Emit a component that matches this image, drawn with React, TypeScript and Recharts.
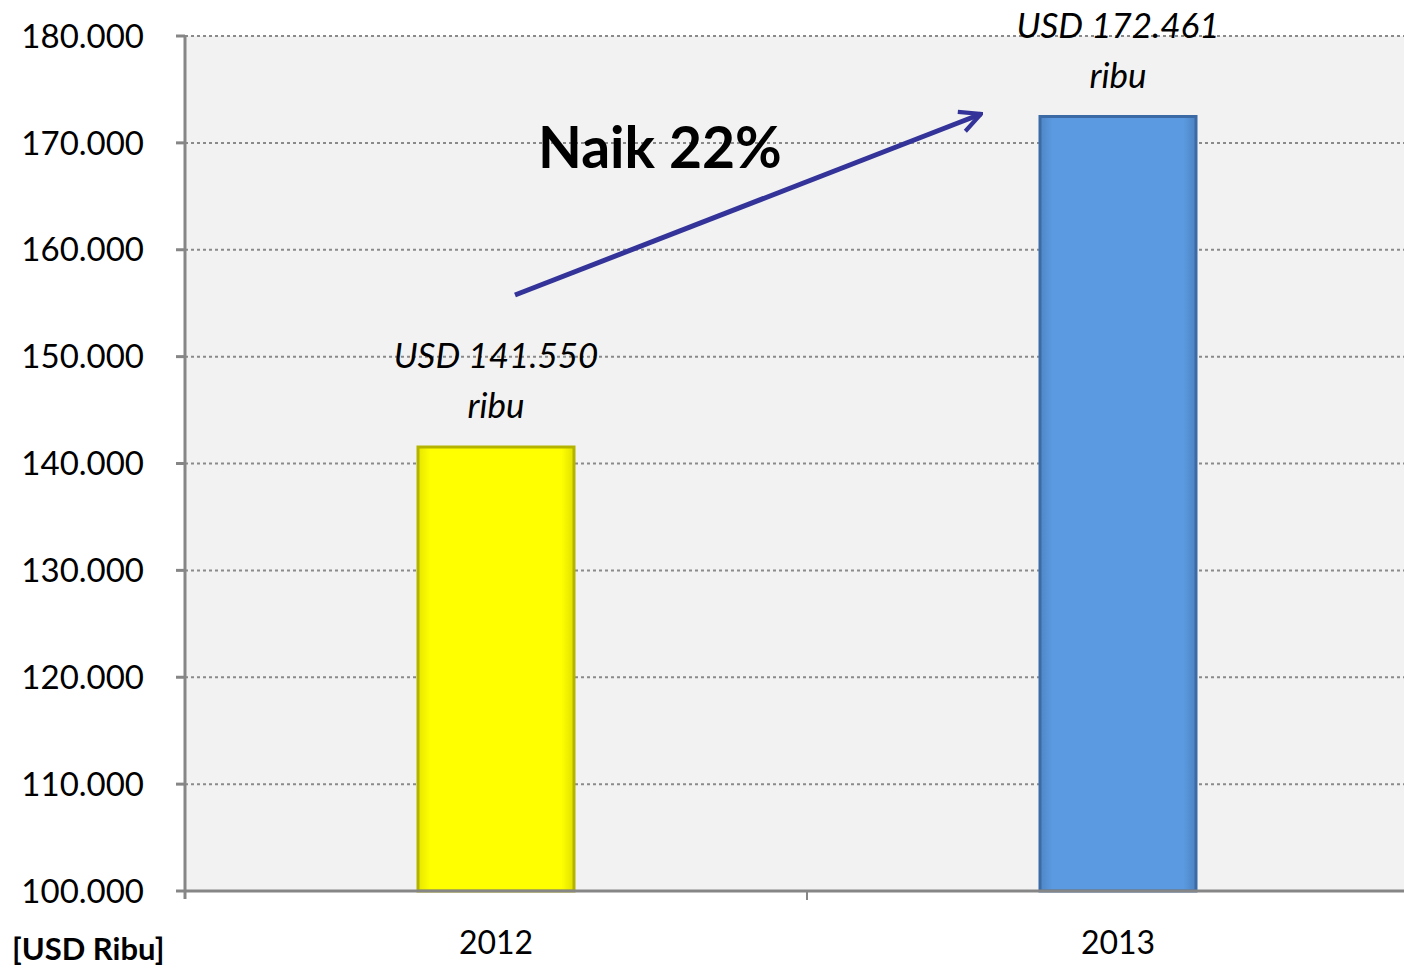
import { BarChart, Bar, XAxis, YAxis, CartesianGrid, Cell, LabelList } from 'recharts';

const years = ['2012', '2013'];
const values = [141550, 172461];
const barGradients = ['barYellow', 'barBlue'];
const barEdges = ['#b3b300', '#3b6aa5'];
const yTicks = [100000, 110000, 120000, 130000, 140000, 150000, 160000, 170000, 180000];

const data = years.map((year, i) => ({ year, value: values[i] }));

const font = 'Lato, "Open Sans", sans-serif';
const dots = (n: number) => String(n).replace(/\B(?=(\d{3})+(?!\d))/g, '.');
const TICK_GAP = 40;

const ValueLabel = (props: any) => {
  const { x, y, width, value } = props;
  const cx = x + width / 2;
  return (
    <g fontFamily={font} fontStyle="italic" fontSize={35} fill="#000" textAnchor="middle">
      <text x={cx} y={y - 79}>{`USD ${dots(value)}`}</text>
      <text x={cx} y={y - 29}>ribu</text>
    </g>
  );
};

// year label plus the small tick marks sitting on the category boundaries
const YearTick = (props: any) => {
  const { x, y, payload, index, visibleTicksCount } = props;
  const half = payload && payload.offset ? payload.offset : 310;
  const axisY = y - TICK_GAP;
  return (
    <g>
      {index === 0 && (
        <line x1={x - half} x2={x - half} y1={axisY} y2={axisY + 8} stroke="#868686" strokeWidth={3} />
      )}
      {index < (visibleTicksCount ?? 2) - 1 && (
        <line x1={x + half} x2={x + half} y1={axisY} y2={axisY + 9} stroke="#868686" strokeWidth={2} />
      )}
      <text x={x} y={y} dy="0.71em" textAnchor="middle" fontFamily={font} fontSize={32} fill="#000">
        {payload.value}
      </text>
    </g>
  );
};

export default function App() {
  return (
    <div
      style={{
        position: 'absolute',
        left: 0,
        top: 0,
        width: 1404,
        height: 968,
        overflow: 'hidden',
        background: '#fff',
      }}
    >
      <BarChart
        width={1429}
        height={968}
        data={data}
        margin={{ top: 36, right: 0, bottom: 0, left: 0 }}
      >
        <defs>
          <linearGradient id="barYellow" x1="0" y1="0" x2="1" y2="0">
            <stop offset="0" stopColor="#e6e600" />
            <stop offset="0.08" stopColor="#ffff00" />
            <stop offset="0.92" stopColor="#ffff00" />
            <stop offset="1" stopColor="#e0e000" />
          </linearGradient>
          <linearGradient id="barBlue" x1="0" y1="0" x2="1" y2="0">
            <stop offset="0" stopColor="#4f86c8" />
            <stop offset="0.08" stopColor="#5b9ae0" />
            <stop offset="0.92" stopColor="#5b9ae0" />
            <stop offset="1" stopColor="#4c82c2" />
          </linearGradient>
        </defs>
        <CartesianGrid
          vertical={false}
          fill="#f2f2f2"
          stroke="#8a8a8a"
          strokeWidth={2}
          strokeDasharray="3 3"
        />
        <XAxis
          dataKey="year"
          axisLine={{ stroke: '#868686', strokeWidth: 3 }}
          tickLine={false}
          tickSize={0}
          tickMargin={TICK_GAP}
          height={77}
          tick={<YearTick />}
        />
        <YAxis
          width={185}
          domain={[100000, 180000]}
          ticks={yTicks}
          tickFormatter={dots}
          axisLine={{ stroke: '#868686', strokeWidth: 3 }}
          tickLine={{ stroke: '#868686', strokeWidth: 3 }}
          tickSize={9}
          tickMargin={32}
          tick={{ fontFamily: font, fontSize: 33, fill: '#000' }}
        />
        <Bar dataKey="value" barSize={156} isAnimationActive={false}>
          {data.map((d, i) => (
            <Cell key={d.year} fill={`url(#${barGradients[i]})`} stroke={barEdges[i]} strokeWidth={3} />
          ))}
          <LabelList dataKey="value" content={ValueLabel} />
        </Bar>
      </BarChart>
      <svg
        width={1404}
        height={968}
        style={{ position: 'absolute', left: 0, top: 0, pointerEvents: 'none' }}
      >
        <defs>
          <marker
            id="head"
            viewBox="0 0 12 12"
            refX={11}
            refY={6}
            markerWidth={5}
            markerHeight={5}
            orient="auto"
          >
            <path d="M1,1 L11,6 L1,11" fill="none" stroke="#333399" strokeWidth={2} />
          </marker>
        </defs>
        <line
          x1={515}
          y1={295}
          x2={981}
          y2={114}
          stroke="#333399"
          strokeWidth={5}
          markerEnd="url(#head)"
        />
        <text x={538} y={168} fontFamily={font} fontWeight="bold" fontSize={57} fill="#000">
          Naik 22%
        </text>
        <text x={12} y={960} fontFamily={font} fontWeight="bold" fontSize={31} fill="#000">
          [USD Ribu]
        </text>
      </svg>
    </div>
  );
}
